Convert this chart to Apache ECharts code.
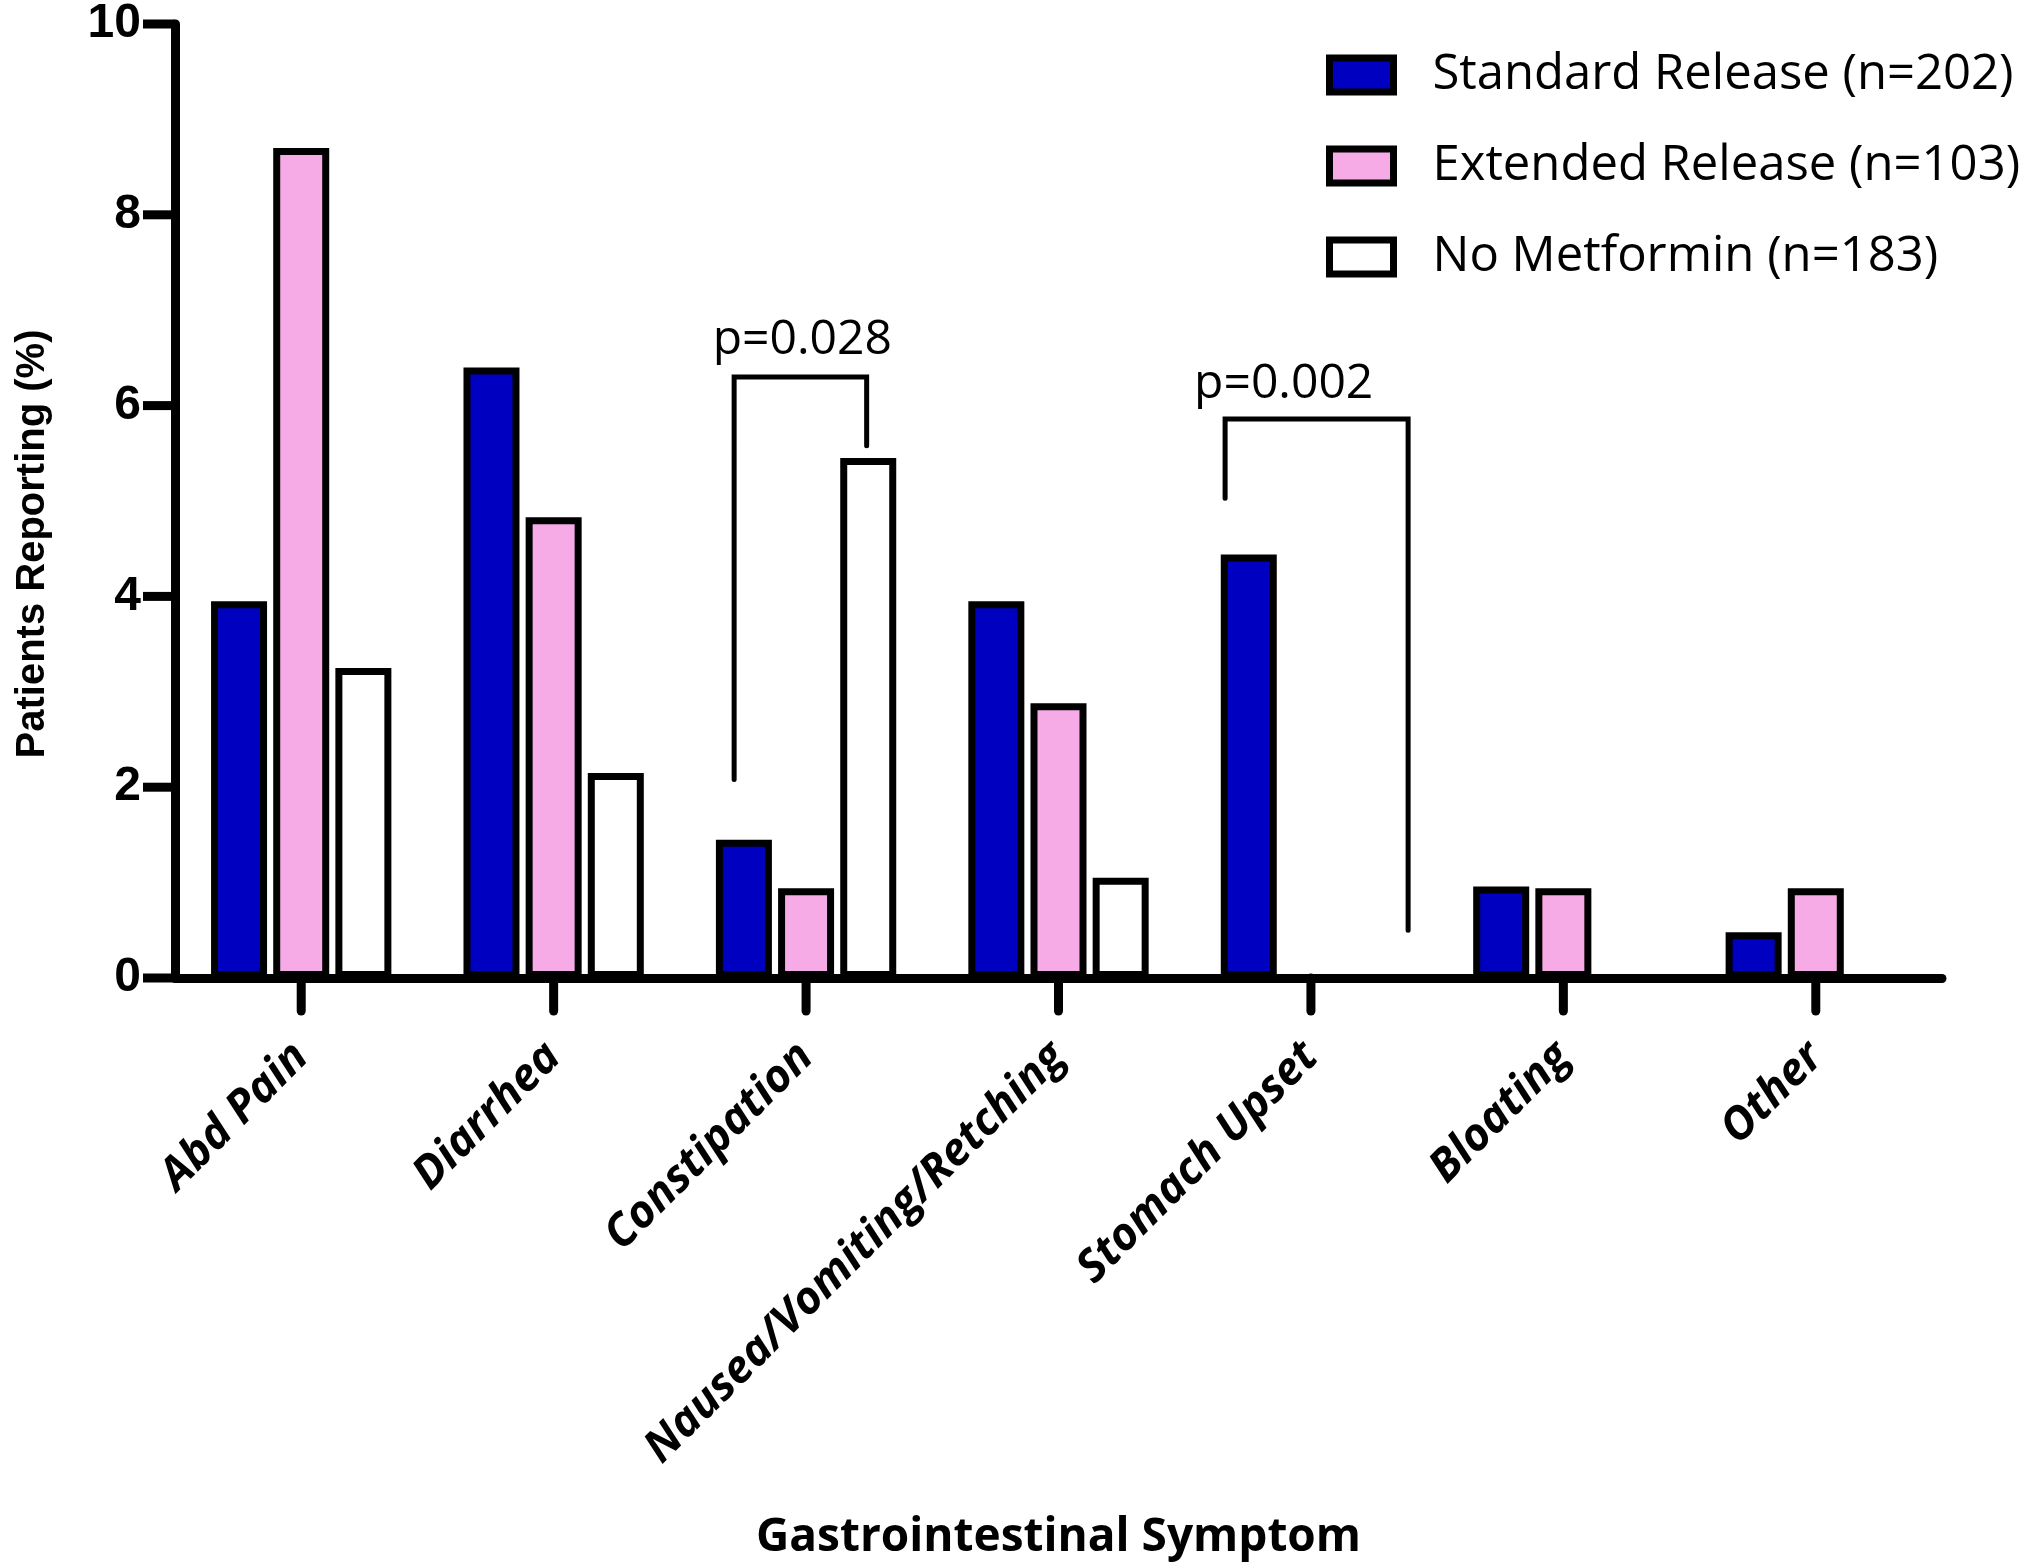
<!DOCTYPE html>
<html><head><meta charset="utf-8">
<script src="https://cdn.jsdelivr.net/npm/echarts@6/dist/echarts.min.js"></script>
<style>html,body{margin:0;padding:0;background:#fff}#chart{width:2040px;height:1566px}</style>
</head><body><div id="chart"></div>
<script>
// ---- data ----
const categories = ['Abd Pain', 'Diarrhea', 'Constipation', 'Nausea/Vomiting/Retching', 'Stomach Upset', 'Bloating', 'Other'];
const seriesNames = ['Standard Release (n=202)', 'Extended Release (n=103)', 'No Metformin (n=183)'];
const standardRelease = [3.95, 6.40, 1.45, 3.95, 4.44, 0.96, 0.48];
const extendedRelease = [8.70, 4.83, 0.94, 2.88, 0, 0.94, 0.94];
const noMetformin = [3.25, 2.15, 5.45, 1.05, 0, 0, 0];
const yTickValues = [0, 2, 4, 6, 8, 10];
// bracket annotations: [category index, left offset, right offset (fraction of band), y left end, y top, y right end, label offset, label y]
const bracketData = [
  [2, -0.285, 0.24, 2.08, 6.30, 5.58, -0.015, 6.68],
  [4, -0.34, 0.385, 5.03, 5.86, 0.50, -0.108, 6.22]
];
const bracketLabels = ['p=0.028', 'p=0.002'];

const colors = ['#0000C0', '#F6ABE6', '#FFFFFF'];
const seriesValues = [standardRelease, extendedRelease, noMetformin];

const chart = echarts.init(document.getElementById('chart'));
const barSeries = seriesNames.map((name, i) => ({
  name: name,
  type: 'bar',
  data: seriesValues[i],
  barWidth: 56,
  barGap: '11%',
  itemStyle: { color: colors[i], borderColor: '#000', borderWidth: 7 }
}));

// tick marks drawn from the axes' own scales
const yTickSeries = {
  type: 'custom', name: 'yTicks', silent: true, clip: false, z: 3,
  data: yTickValues.map(v => [0, v]), encode: { x: 0, y: 1 },
  renderItem: function (params, api) {
    const cs = params.coordSys;
    const y = api.coord([0, api.value(1)])[1];
    return { type: 'line', shape: { x1: cs.x - 32, y1: y, x2: cs.x, y2: y }, style: { stroke: '#000', lineWidth: 9 } };
  }
};
const xTickSeries = {
  type: 'custom', name: 'xTicks', silent: true, clip: false, z: 3,
  data: categories.map((c, i) => [i, 0]), encode: { x: 0, y: 1 },
  renderItem: function (params, api) {
    const cs = params.coordSys;
    const x = api.coord([api.value(0), 0])[0];
    const y0 = cs.y + cs.height;
    return { type: 'line', shape: { x1: x, y1: y0, x2: x, y2: y0 + 33 }, style: { stroke: '#000', lineWidth: 9, lineCap: 'round' } };
  }
};
const bracketSeries = {
  type: 'custom',
  name: 'brackets',
  data: bracketData,
  encode: { x: 0, y: 4 },
  z: 5,
  silent: true,
  clip: false,
  renderItem: function (params, api) {
    const c = api.value(0);
    const bw = api.size([1, 0])[0];
    const cx = api.coord([c, 0])[0];
    const xl = cx + api.value(1) * bw;
    const xr = cx + api.value(2) * bw;
    const yl = api.coord([c, api.value(3)])[1];
    const yt = api.coord([c, api.value(4)])[1];
    const yr = api.coord([c, api.value(5)])[1];
    const lx = cx + api.value(6) * bw;
    const ly = api.coord([c, api.value(7)])[1];
    return {
      type: 'group',
      children: [
        { type: 'polyline', shape: { points: [[xl, yl], [xl, yt], [xr, yt], [xr, yr]] },
          style: { stroke: '#000', lineWidth: 5, fill: null, lineCap: 'round', lineJoin: 'miter' } },
        { type: 'text', x: lx, y: ly,
          style: { text: bracketLabels[params.dataIndex], fill: '#000', fontSize: 48, fontFamily: 'Open Sans', align: 'center', verticalAlign: 'middle' } }
      ]
    };
  }
};

const option = {
  backgroundColor: '#fff',
  animation: false,
  grid: { left: 175, right: 98, top: 21, bottom: 586, containLabel: false },
  legend: {
    orient: 'vertical',
    left: 1321,
    top: 42,
    icon: 'rect',
    itemWidth: 64,
    itemHeight: 34,
    itemGap: 35,
    data: seriesNames,
    itemStyle: { borderColor: '#000', borderWidth: 7 },
    textStyle: { fontFamily: 'Open Sans', fontSize: 49, color: '#000', lineHeight: 56, padding: [0, 0, 0, 34] }
  },
  xAxis: {
    type: 'category',
    data: categories,
    name: 'Gastrointestinal Symptom',
    nameLocation: 'middle',
    nameGap: 537,
    nameTextStyle: { fontFamily: 'Open Sans', fontWeight: 'bold', fontSize: 46, color: '#000' },
    axisLine: { lineStyle: { color: '#000', width: 9, cap: 'round' } },
    axisTick: { show: false },
    axisLabel: { rotate: 45, margin: 72, interval: 0, fontFamily: 'Open Sans', fontWeight: 'bold', fontStyle: 'italic', fontSize: 45, color: '#000' }
  },
  yAxis: {
    type: 'value',
    min: 0, max: 10, interval: 2,
    name: 'Patients Reporting (%)',
    nameLocation: 'middle',
    nameGap: 122,
    nameTextStyle: { fontFamily: 'Liberation Sans', fontWeight: 'bold', fontSize: 40, color: '#000', padding: [0, 86, 0, 0] },
    splitLine: { show: false },
    axisLine: { show: true, lineStyle: { color: '#000', width: 9, cap: 'round' } },
    axisTick: { show: false },
    axisLabel: {
      margin: 34, fontFamily: 'Liberation Sans', fontWeight: 'bold', fontSize: 48, color: '#000',
      formatter: v => (yTickValues.indexOf(v) >= 0 ? String(v) : '')
    }
  },
  series: barSeries.concat([yTickSeries, xTickSeries, bracketSeries])
};
chart.setOption(option);
</script>
</body></html>
